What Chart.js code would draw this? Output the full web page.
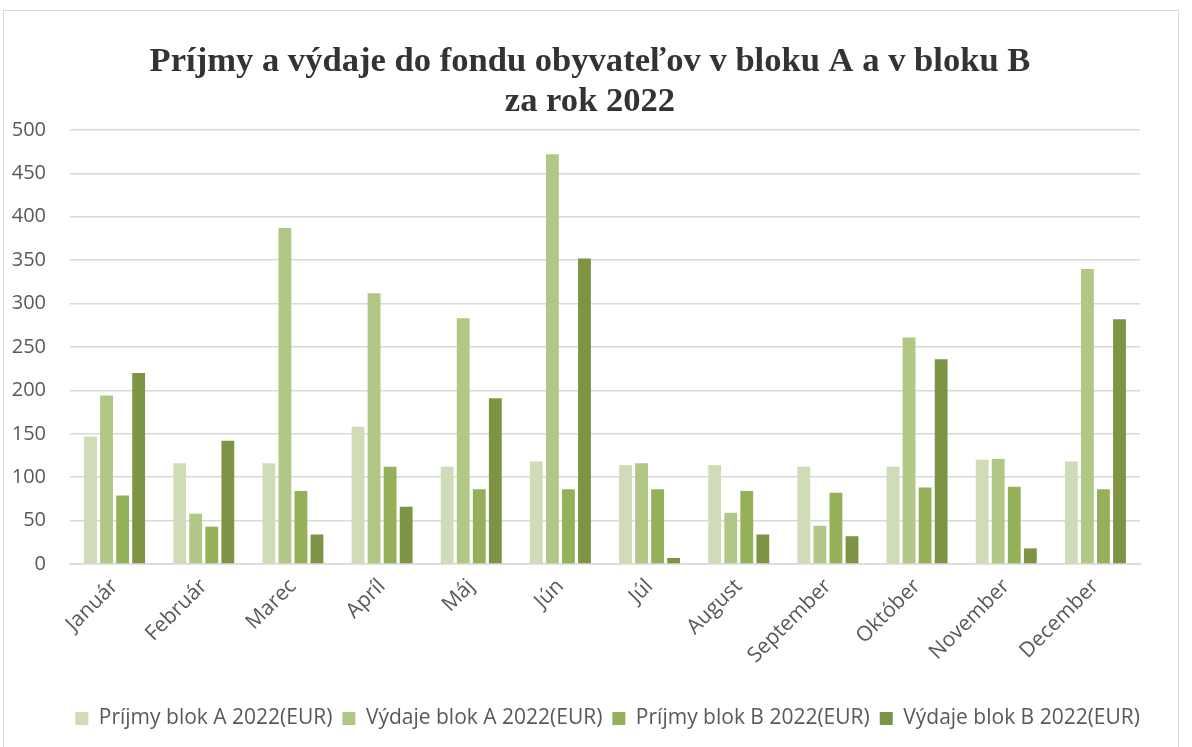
<!DOCTYPE html>
<html>
<head>
<meta charset="utf-8">
<script src="https://cdn.jsdelivr.net/npm/chart.js@4/dist/chart.umd.min.js"></script>
<style>
    body { margin: 0; background: #ffffff; }
    #wrap { position: relative; width: 1192px; height: 747px; overflow: hidden; }
    #frame { position: absolute; left: 3px; top: 10px; width: 1176px; height: 760px; border: 1.5px solid #d9d9d9; box-sizing: border-box; }
    #cnvChart { position: absolute; left: 0; top: 0; }
</style>
</head>
<body>
<div id="wrap">
    <div id="frame"></div>
    <canvas id="cnvChart" width="1192" height="747"></canvas>
</div>
<script>
/**
 * DATA
 */
const months = ['Január', 'Február', 'Marec', 'Apríl', 'Máj', 'Jún', 'Júl', 'August', 'September', 'Október', 'November', 'December'];
const seriesNames = ['Príjmy blok A 2022(EUR)', 'Výdaje blok A 2022(EUR)', 'Príjmy blok B 2022(EUR)', 'Výdaje blok B 2022(EUR)'];
const prijmyA = [147, 116, 116, 158, 112, 118, 114, 114, 112, 112, 120, 118];
const vydajeA = [194, 58, 387, 312, 283, 472, 116, 59, 44, 261, 121, 340];
const prijmyB = [79, 43, 84, 112, 86, 86, 86, 84, 82, 88, 89, 86];
const vydajeB = [220, 142, 34, 66, 191, 352, 7, 34, 32, 236, 18, 282];
const titleLines = ['Príjmy a výdaje do fondu obyvateľov v bloku A a v bloku B', 'za rok 2022'];

const colors = ['#cfdcb7', '#b0c786', '#94b058', '#7e9445'];

/**
 * moves title and legend a bit to the right, like in the original
 */
const shiftBlocks = {
    id: 'shiftBlocks',
    afterLayout(chart) {
        chart.titleBlock.left = 40;
        chart.legend.left += 10;
        chart.legend.right += 10;
    }
};

/**
 * builds the chart
 */
function PaintChart() {
    let canvas = document.querySelector("#cnvChart");
    let values = [prijmyA, vydajeA, prijmyB, vydajeB];
    let datasets = [];
    for (let i = 0; i < values.length; i++) {
        datasets.push({
            label: seriesNames[i],
            data: values[i],
            backgroundColor: colors[i],
            borderWidth: 0,
            categoryPercentage: 0.72,
            barPercentage: 0.8
        });
    }

    let myChart = new Chart(canvas, {
        type: 'bar',
        data: { labels: months, datasets: datasets },
        plugins: [shiftBlocks],
        options: {
            responsive: false,
            animation: false,
            layout: { padding: { left: 8, right: 52, top: 42, bottom: 8 } },
            plugins: {
                title: {
                    display: true,
                    text: titleLines,
                    color: '#333333',
                    font: { family: 'Liberation Serif', size: 34.6, weight: 'bold', lineHeight: 1.156 },
                    padding: { top: 0, bottom: 8 }
                },
                legend: {
                    position: 'bottom',
                    align: 'end',
                    labels: {
                        color: '#595959',
                        font: { family: 'Open Sans', size: 21 },
                        boxWidth: 13,
                        boxHeight: 13,
                        padding: 10
                    }
                },
                tooltip: { enabled: false }
            },
            scales: {
                x: {
                    grid: { display: false },
                    border: { color: '#d9d9d9', width: 1.5 },
                    ticks: {
                        color: '#595959',
                        font: { family: 'Open Sans', size: 21 },
                        minRotation: 45,
                        maxRotation: 45,
                        padding: 2
                    },
                    afterFit: function (scale) { scale.height = 134; }
                },
                y: {
                    min: 0,
                    max: 500,
                    grid: { color: '#d9d9d9', lineWidth: 1.5, drawTicks: false },
                    border: { display: false },
                    ticks: {
                        stepSize: 50,
                        color: '#595959',
                        font: { family: 'Open Sans', size: 20 },
                        padding: 24
                    },
                    afterFit: function (scale) { scale.width = 62; }
                }
            }
        }
    });
}

PaintChart();
</script>
</body>
</html>
